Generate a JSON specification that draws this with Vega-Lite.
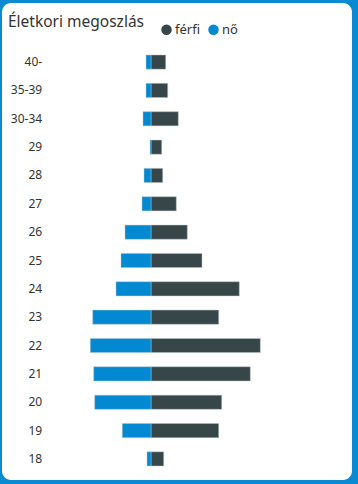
{
  "$schema": "https://vega.github.io/schema/vega-lite/v6.json",
  "width": 350,
  "height": 477,
  "autosize": {"type": "none"},
  "padding": {"left": 2, "top": 3, "right": 6, "bottom": 4},
  "background": "#0a8ad2",
  "config": {
    "view": {"fill": "#ffffff", "stroke": null, "cornerRadius": 9},
    "font": "Segoe UI, Noto Sans, sans-serif"
  },
  "title": {
    "text": "Életkori megoszlás",
    "anchor": "start",
    "frame": "group",
    "fontSize": 15.5,
    "fontWeight": "normal",
    "color": "#333333",
    "offset": -27,
    "dx": 6
  },
  "data": {
    "values": [
      {"kor": "40-", "nem": "férfi", "ertek": 14.7},
      {"kor": "40-", "nem": "nő", "ertek": -5},
      {"kor": "35-39", "nem": "férfi", "ertek": 16.7},
      {"kor": "35-39", "nem": "nő", "ertek": -5},
      {"kor": "30-34", "nem": "férfi", "ertek": 27.3},
      {"kor": "30-34", "nem": "nő", "ertek": -8},
      {"kor": "29", "nem": "férfi", "ertek": 10.7},
      {"kor": "29", "nem": "nő", "ertek": -1},
      {"kor": "28", "nem": "férfi", "ertek": 11.7},
      {"kor": "28", "nem": "nő", "ertek": -7},
      {"kor": "27", "nem": "férfi", "ertek": 25.3},
      {"kor": "27", "nem": "nő", "ertek": -9},
      {"kor": "26", "nem": "férfi", "ertek": 36.3},
      {"kor": "26", "nem": "nő", "ertek": -26},
      {"kor": "25", "nem": "férfi", "ertek": 51},
      {"kor": "25", "nem": "nő", "ertek": -30},
      {"kor": "24", "nem": "férfi", "ertek": 88.3},
      {"kor": "24", "nem": "nő", "ertek": -35},
      {"kor": "23", "nem": "férfi", "ertek": 67.7},
      {"kor": "23", "nem": "nő", "ertek": -58.3},
      {"kor": "22", "nem": "férfi", "ertek": 109.3},
      {"kor": "22", "nem": "nő", "ertek": -60.7},
      {"kor": "21", "nem": "férfi", "ertek": 99.3},
      {"kor": "21", "nem": "nő", "ertek": -57.3},
      {"kor": "20", "nem": "férfi", "ertek": 70.7},
      {"kor": "20", "nem": "nő", "ertek": -56.3},
      {"kor": "19", "nem": "férfi", "ertek": 67.7},
      {"kor": "19", "nem": "nő", "ertek": -28.7},
      {"kor": "18", "nem": "férfi", "ertek": 12.7},
      {"kor": "18", "nem": "nő", "ertek": -4}
    ]
  },
  "mark": {"type": "bar", "stroke": "#b9c4c8", "strokeWidth": 0.8, "strokeOpacity": 0.6},
  "encoding": {
    "y": {
      "field": "kor",
      "type": "nominal",
      "sort": ["40-", "35-39", "30-34", "29", "28", "27", "26", "25", "24", "23", "22", "21", "20", "19", "18"],
      "scale": {"paddingInner": 0.5, "paddingOuter": 0, "range": [52, 463]},
      "axis": {
        "title": null,
        "ticks": false,
        "tickSize": 0,
        "domain": false,
        "grid": false,
        "labelPadding": 0,
        "offset": -39.7,
        "labelFontSize": 12,
        "labelColor": "#333333"
      }
    },
    "x": {
      "field": "ertek",
      "type": "quantitative",
      "stack": null,
      "scale": {"domain": [-149, 201], "nice": false, "zero": true},
      "axis": null
    },
    "color": {
      "field": "nem",
      "type": "nominal",
      "scale": {"domain": ["férfi", "nő"], "range": ["#374649", "#0289d1"]},
      "legend": {
        "title": null,
        "orient": "none",
        "direction": "horizontal",
        "legendX": 158,
        "legendY": 20,
        "padding": 0,
        "symbolType": "circle",
        "symbolSize": 110,
        "symbolStrokeWidth": 0,
        "symbolOpacity": 1,
        "labelFontSize": 13,
        "labelColor": "#333333",
        "labelOffset": 2,
        "columnPadding": 7
      }
    }
  }
}
